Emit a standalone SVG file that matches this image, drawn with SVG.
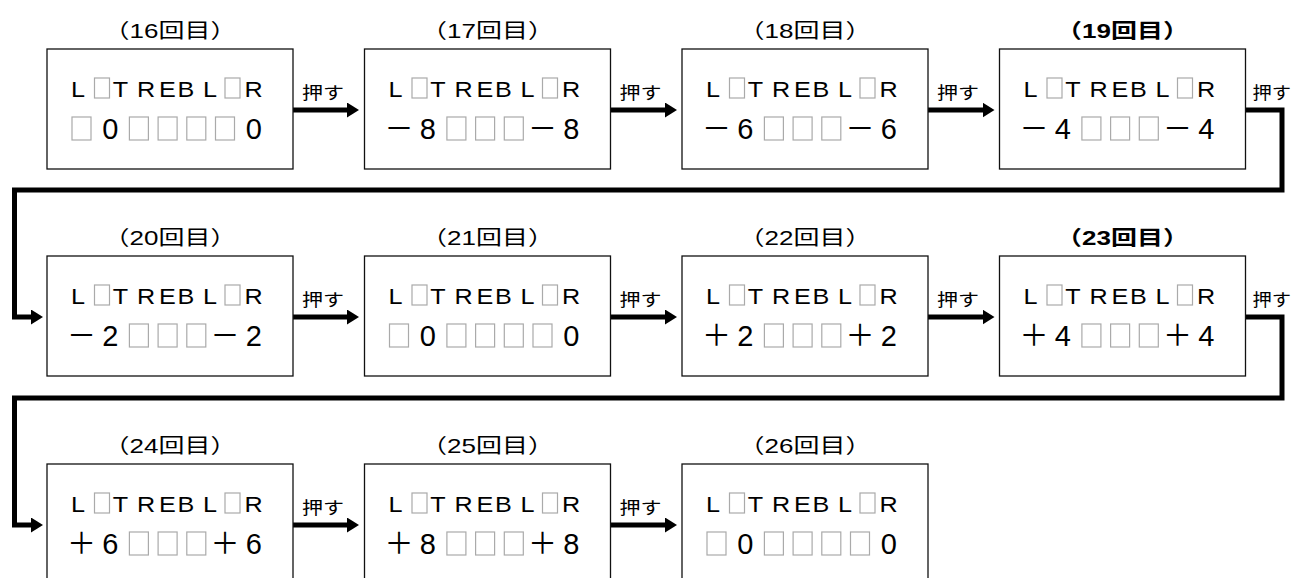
<svg xmlns="http://www.w3.org/2000/svg" xmlns:xlink="http://www.w3.org/1999/xlink" width="1291" height="578" viewBox="0 0 1291 578">
<style>
.box{fill:#fff;stroke:#111;stroke-width:1.3}
.bl{fill:none;stroke:#aaa;stroke-width:1.2}
.t1{font-family:"Liberation Sans",Arial,sans-serif;font-size:22.5px;text-anchor:middle;fill:#000}
.t2{font-family:"Liberation Sans",Arial,sans-serif;font-size:29px;text-anchor:middle;fill:#000}
.sg{font-family:"Noto Sans CJK JP",sans-serif;font-size:29px;text-anchor:middle;fill:#000}
.ttl{font-family:"Liberation Sans","Noto Sans CJK JP",sans-serif;font-size:20px;text-anchor:middle;fill:#000}
.bold{font-weight:bold}
.lbl{font-family:"Noto Sans CJK JP",sans-serif;font-size:17.5px;fill:#000}
.conn{fill:none;stroke:#000;stroke-width:5;stroke-linejoin:miter}
</style>
<defs>
<marker id="ah" markerUnits="userSpaceOnUse" markerWidth="14" markerHeight="16" refX="2" refY="7.5" orient="auto">
<path d="M0,0 L12,7.5 L0,15 Z" fill="#000"/>
</marker>
<rect id="b1" class="bl" width="15" height="20"/>
<rect id="b2" class="bl" width="19" height="23"/>
</defs>

<g id="connectors">
<path class="conn" d="M293,110 H349" marker-end="url(#ah)"/>
<path class="conn" d="M610.5,110 H667" marker-end="url(#ah)"/>
<path class="conn" d="M928,110 H984.5" marker-end="url(#ah)"/>
<path class="conn" d="M1245.5,110 H1282 V190 H14.5 V317 H33" marker-end="url(#ah)"/>
<path class="conn" d="M293,317 H349" marker-end="url(#ah)"/>
<path class="conn" d="M610.5,317 H667" marker-end="url(#ah)"/>
<path class="conn" d="M928,317 H984.5" marker-end="url(#ah)"/>
<path class="conn" d="M1245.5,317 H1282 V398 H14.5 V525 H33" marker-end="url(#ah)"/>
<path class="conn" d="M293,525 H349" marker-end="url(#ah)"/>
<path class="conn" d="M610.5,525 H667" marker-end="url(#ah)"/>
<text class="lbl" transform="translate(302,99) scale(1.2,1)">押す</text>
<text class="lbl" transform="translate(619.5,99) scale(1.2,1)">押す</text>
<text class="lbl" transform="translate(937,99) scale(1.2,1)">押す</text>
<text class="lbl" transform="translate(1252.5,99) scale(1.1,1)">押す</text>
<text class="lbl" transform="translate(302,306) scale(1.2,1)">押す</text>
<text class="lbl" transform="translate(619.5,306) scale(1.2,1)">押す</text>
<text class="lbl" transform="translate(937,306) scale(1.2,1)">押す</text>
<text class="lbl" transform="translate(1252.5,306) scale(1.1,1)">押す</text>
<text class="lbl" transform="translate(302,514) scale(1.2,1)">押す</text>
<text class="lbl" transform="translate(619.5,514) scale(1.2,1)">押す</text>
</g>

<g id="n16" transform="translate(47,49)">
<rect class="box" width="246" height="120"/>
<text class="ttl" transform="translate(123,-11) scale(1.3,1)">（16回目）</text>
<use xlink:href="#b1" x="47.5" y="29"/><use xlink:href="#b1" x="178" y="29"/>
<text class="t1" transform="translate(0,48) scale(1.12,1)" x="27.68 65.63 88.39 107.59 124.11 145.54 184.38">LTREBLR</text>
<use xlink:href="#b2" x="25" y="68"/><text class="t2" x="63.2" y="90">0</text><use xlink:href="#b2" x="82.4" y="68"/><use xlink:href="#b2" x="111.1" y="68"/><use xlink:href="#b2" x="139.8" y="68"/><use xlink:href="#b2" x="168.5" y="68"/><text class="t2" x="206.7" y="90">0</text>
</g>

<g id="n17" transform="translate(364.5,49)">
<rect class="box" width="246" height="120"/>
<text class="ttl" transform="translate(123,-11) scale(1.3,1)">（17回目）</text>
<use xlink:href="#b1" x="47.5" y="29"/><use xlink:href="#b1" x="178" y="29"/>
<text class="t1" transform="translate(0,48) scale(1.12,1)" x="27.68 65.63 88.39 107.59 124.11 145.54 184.38">LTREBLR</text>
<text class="sg" x="34.5" y="90">－</text><text class="t2" x="63.2" y="90">8</text><use xlink:href="#b2" x="82.4" y="68"/><use xlink:href="#b2" x="111.1" y="68"/><use xlink:href="#b2" x="139.8" y="68"/><text class="sg" x="178" y="90">－</text><text class="t2" x="206.7" y="90">8</text>
</g>

<g id="n18" transform="translate(682,49)">
<rect class="box" width="246" height="120"/>
<text class="ttl" transform="translate(123,-11) scale(1.3,1)">（18回目）</text>
<use xlink:href="#b1" x="47.5" y="29"/><use xlink:href="#b1" x="178" y="29"/>
<text class="t1" transform="translate(0,48) scale(1.12,1)" x="27.68 65.63 88.39 107.59 124.11 145.54 184.38">LTREBLR</text>
<text class="sg" x="34.5" y="90">－</text><text class="t2" x="63.2" y="90">6</text><use xlink:href="#b2" x="82.4" y="68"/><use xlink:href="#b2" x="111.1" y="68"/><use xlink:href="#b2" x="139.8" y="68"/><text class="sg" x="178" y="90">－</text><text class="t2" x="206.7" y="90">6</text>
</g>

<g id="n19" transform="translate(999.5,49)">
<rect class="box" width="246" height="120"/>
<text class="ttl bold" transform="translate(123,-11) scale(1.3,1)">（19回目）</text>
<use xlink:href="#b1" x="47.5" y="29"/><use xlink:href="#b1" x="178" y="29"/>
<text class="t1" transform="translate(0,48) scale(1.12,1)" x="27.68 65.63 88.39 107.59 124.11 145.54 184.38">LTREBLR</text>
<text class="sg" x="34.5" y="90">－</text><text class="t2" x="63.2" y="90">4</text><use xlink:href="#b2" x="82.4" y="68"/><use xlink:href="#b2" x="111.1" y="68"/><use xlink:href="#b2" x="139.8" y="68"/><text class="sg" x="178" y="90">－</text><text class="t2" x="206.7" y="90">4</text>
</g>

<g id="n20" transform="translate(47,256)">
<rect class="box" width="246" height="120"/>
<text class="ttl" transform="translate(123,-11) scale(1.3,1)">（20回目）</text>
<use xlink:href="#b1" x="47.5" y="29"/><use xlink:href="#b1" x="178" y="29"/>
<text class="t1" transform="translate(0,48) scale(1.12,1)" x="27.68 65.63 88.39 107.59 124.11 145.54 184.38">LTREBLR</text>
<text class="sg" x="34.5" y="90">－</text><text class="t2" x="63.2" y="90">2</text><use xlink:href="#b2" x="82.4" y="68"/><use xlink:href="#b2" x="111.1" y="68"/><use xlink:href="#b2" x="139.8" y="68"/><text class="sg" x="178" y="90">－</text><text class="t2" x="206.7" y="90">2</text>
</g>

<g id="n21" transform="translate(364.5,256)">
<rect class="box" width="246" height="120"/>
<text class="ttl" transform="translate(123,-11) scale(1.3,1)">（21回目）</text>
<use xlink:href="#b1" x="47.5" y="29"/><use xlink:href="#b1" x="178" y="29"/>
<text class="t1" transform="translate(0,48) scale(1.12,1)" x="27.68 65.63 88.39 107.59 124.11 145.54 184.38">LTREBLR</text>
<use xlink:href="#b2" x="25" y="68"/><text class="t2" x="63.2" y="90">0</text><use xlink:href="#b2" x="82.4" y="68"/><use xlink:href="#b2" x="111.1" y="68"/><use xlink:href="#b2" x="139.8" y="68"/><use xlink:href="#b2" x="168.5" y="68"/><text class="t2" x="206.7" y="90">0</text>
</g>

<g id="n22" transform="translate(682,256)">
<rect class="box" width="246" height="120"/>
<text class="ttl" transform="translate(123,-11) scale(1.3,1)">（22回目）</text>
<use xlink:href="#b1" x="47.5" y="29"/><use xlink:href="#b1" x="178" y="29"/>
<text class="t1" transform="translate(0,48) scale(1.12,1)" x="27.68 65.63 88.39 107.59 124.11 145.54 184.38">LTREBLR</text>
<text class="sg" x="34.5" y="90">＋</text><text class="t2" x="63.2" y="90">2</text><use xlink:href="#b2" x="82.4" y="68"/><use xlink:href="#b2" x="111.1" y="68"/><use xlink:href="#b2" x="139.8" y="68"/><text class="sg" x="178" y="90">＋</text><text class="t2" x="206.7" y="90">2</text>
</g>

<g id="n23" transform="translate(999.5,256)">
<rect class="box" width="246" height="120"/>
<text class="ttl bold" transform="translate(123,-11) scale(1.3,1)">（23回目）</text>
<use xlink:href="#b1" x="47.5" y="29"/><use xlink:href="#b1" x="178" y="29"/>
<text class="t1" transform="translate(0,48) scale(1.12,1)" x="27.68 65.63 88.39 107.59 124.11 145.54 184.38">LTREBLR</text>
<text class="sg" x="34.5" y="90">＋</text><text class="t2" x="63.2" y="90">4</text><use xlink:href="#b2" x="82.4" y="68"/><use xlink:href="#b2" x="111.1" y="68"/><use xlink:href="#b2" x="139.8" y="68"/><text class="sg" x="178" y="90">＋</text><text class="t2" x="206.7" y="90">4</text>
</g>

<g id="n24" transform="translate(47,464)">
<rect class="box" width="246" height="120"/>
<text class="ttl" transform="translate(123,-11) scale(1.3,1)">（24回目）</text>
<use xlink:href="#b1" x="47.5" y="29"/><use xlink:href="#b1" x="178" y="29"/>
<text class="t1" transform="translate(0,48) scale(1.12,1)" x="27.68 65.63 88.39 107.59 124.11 145.54 184.38">LTREBLR</text>
<text class="sg" x="34.5" y="90">＋</text><text class="t2" x="63.2" y="90">6</text><use xlink:href="#b2" x="82.4" y="68"/><use xlink:href="#b2" x="111.1" y="68"/><use xlink:href="#b2" x="139.8" y="68"/><text class="sg" x="178" y="90">＋</text><text class="t2" x="206.7" y="90">6</text>
</g>

<g id="n25" transform="translate(364.5,464)">
<rect class="box" width="246" height="120"/>
<text class="ttl" transform="translate(123,-11) scale(1.3,1)">（25回目）</text>
<use xlink:href="#b1" x="47.5" y="29"/><use xlink:href="#b1" x="178" y="29"/>
<text class="t1" transform="translate(0,48) scale(1.12,1)" x="27.68 65.63 88.39 107.59 124.11 145.54 184.38">LTREBLR</text>
<text class="sg" x="34.5" y="90">＋</text><text class="t2" x="63.2" y="90">8</text><use xlink:href="#b2" x="82.4" y="68"/><use xlink:href="#b2" x="111.1" y="68"/><use xlink:href="#b2" x="139.8" y="68"/><text class="sg" x="178" y="90">＋</text><text class="t2" x="206.7" y="90">8</text>
</g>

<g id="n26" transform="translate(682,464)">
<rect class="box" width="246" height="120"/>
<text class="ttl" transform="translate(123,-11) scale(1.3,1)">（26回目）</text>
<use xlink:href="#b1" x="47.5" y="29"/><use xlink:href="#b1" x="178" y="29"/>
<text class="t1" transform="translate(0,48) scale(1.12,1)" x="27.68 65.63 88.39 107.59 124.11 145.54 184.38">LTREBLR</text>
<use xlink:href="#b2" x="25" y="68"/><text class="t2" x="63.2" y="90">0</text><use xlink:href="#b2" x="82.4" y="68"/><use xlink:href="#b2" x="111.1" y="68"/><use xlink:href="#b2" x="139.8" y="68"/><use xlink:href="#b2" x="168.5" y="68"/><text class="t2" x="206.7" y="90">0</text>
</g>
</svg>
